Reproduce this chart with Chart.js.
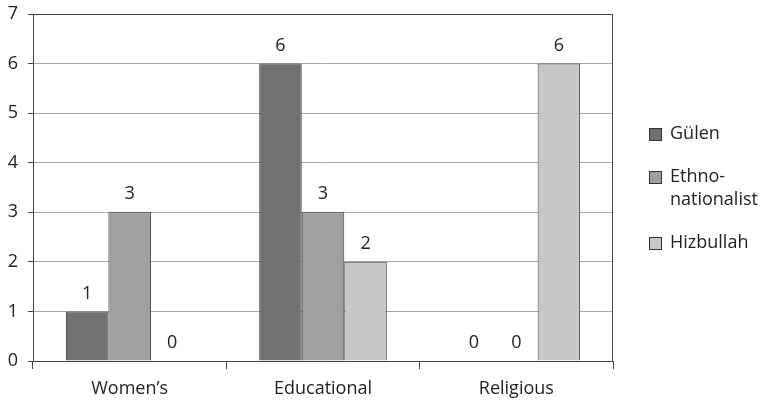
<!DOCTYPE html>
<html>
<head>
<meta charset="utf-8">
<script src="https://cdn.jsdelivr.net/npm/chart.js@4/dist/chart.umd.min.js"></script>
<style>
  html, body { margin: 0; padding: 0; background: #fff; }
  #wrap { width: 769px; height: 406px; position: relative; }
</style>
</head>
<body>
<div id="wrap"><canvas id="barChart"></canvas></div>
<script>
var categories = ["Women\u2019s", "Educational", "Religious"];
var seriesNames = ["Gülen", "Ethno-nationalist", "Hizbullah"];
var gulen = [1, 6, 0];
var ethno = [3, 3, 0];
var hizbullah = [0, 2, 6];
var yTicks = [0, 1, 2, 3, 4, 5, 6, 7];

var colors = ["#717171", "#a0a0a0", "#c8c8c8"];
var fontFam = "'Open Sans', 'DejaVu Sans', sans-serif";

// labels above every bar, including the zeros
var valueLabels = {
    id: 'valueLabels',
    afterDatasetsDraw: function(chart) {
        var c = chart.ctx;
        c.save();
        c.font = "18px " + fontFam;
        c.fillStyle = "#222";
        c.textAlign = "center";
        c.textBaseline = "middle";
        chart.data.datasets.forEach(function(ds, i) {
            chart.getDatasetMeta(i).data.forEach(function(bar, j) {
                c.fillText(ds.data[j], bar.x, bar.y - 18);
            });
        });
        c.restore();
    }
};

// plot frame + legend on the right
var frameLegend = {
    id: 'frameLegend',
    afterDraw: function(chart) {
        var c = chart.ctx;
        var a = chart.chartArea;
        c.save();
        c.strokeStyle = "#444";
        c.lineWidth = 1;
        c.beginPath();
        c.moveTo(a.left + 0.5, a.bottom);
        c.lineTo(a.left + 0.5, a.top + 0.5);
        c.lineTo(a.right - 0.5, a.top + 0.5);
        c.lineTo(a.right - 0.5, a.bottom);
        c.stroke();

        c.font = "18px " + fontFam;
        c.textBaseline = "middle";
        c.textAlign = "left";
        var x = a.right + 36;
        var y = 134;
        chart.data.datasets.forEach(function(ds) {
            c.fillStyle = ds.backgroundColor;
            c.fillRect(x, y - 6, 13, 13);
            c.strokeStyle = "#333";
            c.strokeRect(x + 0.5, y - 5.5, 12, 12);
            c.fillStyle = "#222";
            var lines = ds.label.indexOf('-') > 0 ? [ds.label.split('-')[0] + '-', ds.label.split('-')[1]] : [ds.label];
            lines.forEach(function(t, k) {
                c.fillText(t, x + 21, y + k * 23);
            });
            y += 20 + lines.length * 23;
        });
        c.restore();
    }
};

new Chart(document.getElementById('barChart'), {
    type: 'bar',
    data: {
        labels: categories,
        datasets: [
            { label: seriesNames[0], data: gulen, backgroundColor: colors[0] },
            { label: seriesNames[1], data: ethno, backgroundColor: colors[1] },
            { label: seriesNames[2], data: hizbullah, backgroundColor: colors[2] }
        ].map(function(d) {
            d.borderColor = "#3a3a3a";
            d.borderWidth = 1;
            d.categoryPercentage = 0.66;
            d.barPercentage = 1;
            return d;
        })
    },
    options: {
        responsive: true,
        maintainAspectRatio: false,
        animation: false,
        layout: { padding: { left: 0, top: 0, right: 156, bottom: 0 } },
        plugins: {
            legend: { display: false },
            tooltip: { enabled: false }
        },
        scales: {
            x: {
                grid: { drawOnChartArea: false, drawTicks: true, tickLength: 8, offset: true, color: "#444" },
                border: { color: "#444" },
                ticks: { color: "#222", font: { size: 18, family: fontFam }, padding: 9 },
                afterFit: function(s) { s.height = 45; s.paddingLeft = 0; s.paddingRight = 0; }
            },
            y: {
                min: 0,
                max: 7,
                afterBuildTicks: function(s) { s.ticks = yTicks.map(function(v) { return { value: v }; }); },
                grid: { color: "#a8a8a8", tickLength: 5, tickColor: "#444" },
                border: { color: "#444" },
                ticks: { color: "#222", font: { size: 18, family: fontFam }, padding: 10 },
                afterFit: function(s) { s.width = 33; s.paddingTop = 14; s.paddingBottom = 0; }
            }
        }
    },
    plugins: [valueLabels, frameLegend]
});
</script>
</body>
</html>
